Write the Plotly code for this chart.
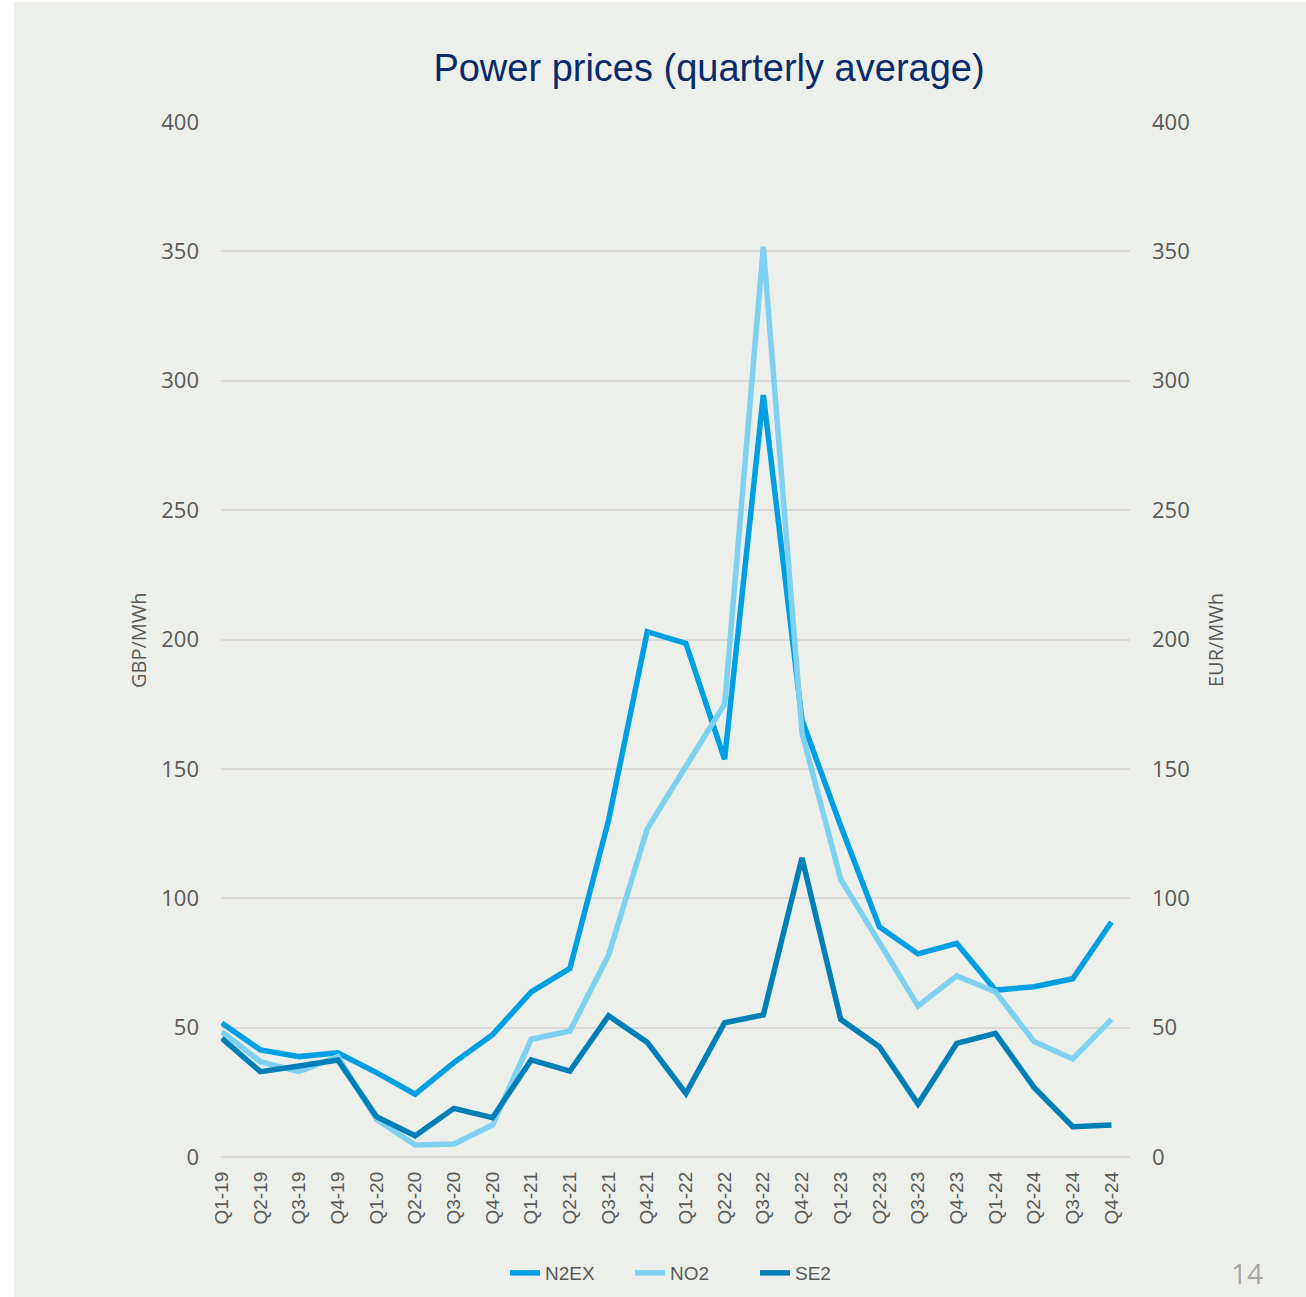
import plotly.graph_objects as go

quarters = ["Q1-19", "Q2-19", "Q3-19", "Q4-19", "Q1-20", "Q2-20", "Q3-20", "Q4-20",
            "Q1-21", "Q2-21", "Q3-21", "Q4-21", "Q1-22", "Q2-22", "Q3-22", "Q4-22",
            "Q1-23", "Q2-23", "Q3-23", "Q4-23", "Q1-24", "Q2-24", "Q3-24", "Q4-24"]

n2ex = [51.8, 41.4, 38.8, 40.3, 32.6, 24.3, 36.5, 47.3,
        63.8, 72.9, 130.2, 203.0, 198.5, 153.7, 294.5, 168.9,
        128.0, 89.0, 78.5, 82.6, 64.5, 65.8, 68.9, 90.8]

no2 = [48.4, 36.8, 33.0, 38.8, 14.6, 4.6, 5.0, 12.4,
       45.5, 48.7, 78.0, 126.8, 151.0, 175.0, 351.8, 163.9,
       107.4, 82.8, 58.4, 70.0, 63.9, 44.6, 37.9, 53.2]

se2 = [45.9, 33.0, 35.2, 37.5, 15.6, 8.2, 18.8, 15.2,
       37.5, 33.2, 54.6, 44.3, 24.6, 51.9, 54.9, 115.6,
       53.2, 42.6, 20.5, 43.9, 47.8, 26.9, 11.7, 12.4]

y_ticks = [0, 50, 100, 150, 200, 250, 300, 350, 400]

x_idx = list(range(len(quarters)))

C_N2EX = "#009FE3"
C_NO2 = "#7FD1F2"
C_SE2 = "#007FB7"
BG = "#EDF0EA"
GRID = "#D9D9D9"
TXT = "#595959"

fig = go.Figure()
fig.add_trace(go.Scatter(x=x_idx, y=n2ex, name="N2EX", mode="lines",
                         line=dict(color=C_N2EX, width=5.5)))
fig.add_trace(go.Scatter(x=x_idx, y=no2, name="NO2", mode="lines", yaxis="y2",
                         line=dict(color=C_NO2, width=5.5)))
fig.add_trace(go.Scatter(x=x_idx, y=se2, name="SE2", mode="lines", yaxis="y2",
                         line=dict(color=C_SE2, width=5.5)))

W, H = 1306, 1297
L, R, T, B = 221, 176, 122, 140
pw, ph = W - L - R, H - T - B

def px(xp):
    return (xp - L) / pw

def py(yp):
    return (H - B - yp) / ph

fig.update_layout(
    width=W, height=H,
    margin=dict(l=L, r=R, t=T, b=B),
    paper_bgcolor="white",
    plot_bgcolor="rgba(0,0,0,0)",
    font=dict(family="Open Sans, Arial, sans-serif", color=TXT),
    title=dict(text="Power prices (quarterly average)",
               x=709 / W, xanchor="center", xref="container",
               y=1 - 68 / H, yanchor="middle", yref="container",
               font=dict(family="Liberation Sans Narrow, Arial Narrow, Liberation Sans, Arial, sans-serif",
                         size=38, color="#0B2A6B")),
    xaxis=dict(range=[-0.02, 23.48], tickmode="array", tickvals=x_idx, ticktext=quarters,
               tickangle=-90, showgrid=False, zeroline=False, showline=False,
               ticks="", ticklabelstandoff=10,
               tickfont=dict(size=19, color=TXT, family="Liberation Sans, Arial, sans-serif")),
    yaxis=dict(range=[0, 400], tickvals=y_ticks, showgrid=True, gridcolor=GRID, gridwidth=1.5,
               zeroline=True, zerolinecolor=GRID, zerolinewidth=1.5, showline=False,
               ticks="", ticklabelstandoff=21, tickfont=dict(size=22, color=TXT)),
    yaxis2=dict(range=[0, 400], tickvals=y_ticks, overlaying="y", side="right",
                showgrid=False, zeroline=False, showline=False,
                ticks="", ticklabelstandoff=21, tickfont=dict(size=22, color=TXT)),
    legend=dict(orientation="h", x=505 / W, xanchor="left", xref="container",
                y=1 - 1273 / H, yanchor="middle", yref="container",
                font=dict(size=19, color=TXT, family="Liberation Sans, Arial, sans-serif"),
                bgcolor="rgba(0,0,0,0)", entrywidth=80, tracegroupgap=0),
    showlegend=True,
    shapes=[dict(type="rect", xref="paper", yref="paper",
                 x0=px(14), x1=px(W + 5), y0=py(H + 5), y1=py(2),
                 fillcolor=BG, line=dict(width=0), layer="below")],
    annotations=[
        dict(text="GBP/MWh", xref="paper", yref="paper", x=px(138), y=py(640),
             textangle=-90, showarrow=False, xanchor="center", yanchor="middle",
             font=dict(size=20, color=TXT)),
        dict(text="EUR/MWh", xref="paper", yref="paper", x=px(1215), y=py(640),
             textangle=-90, showarrow=False, xanchor="center", yanchor="middle",
             font=dict(size=20, color=TXT)),
        dict(text="14", xref="paper", yref="paper", x=px(1247), y=py(1273),
             showarrow=False, xanchor="center", yanchor="middle",
             font=dict(size=28, color="#A6A6A6")),
    ],
)

fig.write_html("out.html", config={"displayModeBar": False},
               post_script="document.body.style.margin='0px';")
